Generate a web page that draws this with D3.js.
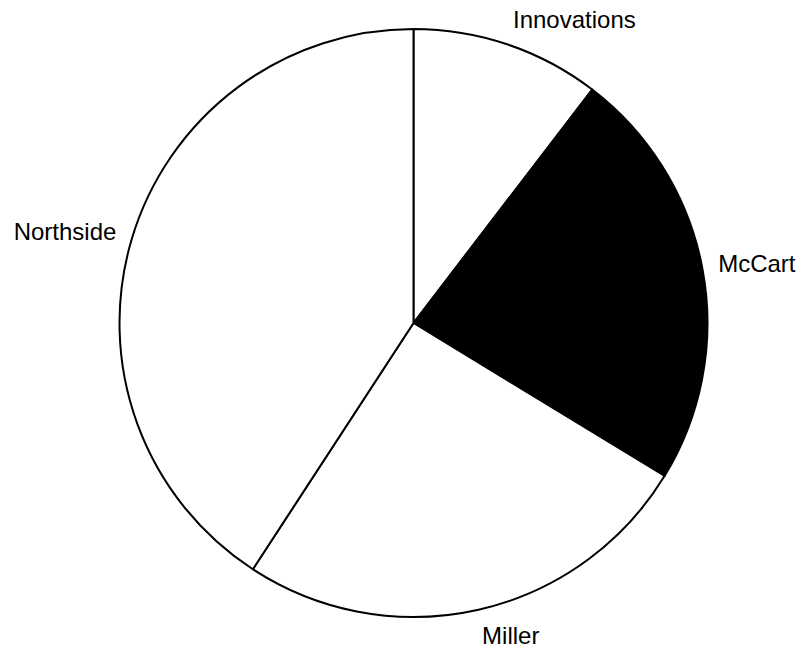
<!DOCTYPE html>
<html>
<head>
<meta charset="utf-8">
<script src="https://cdn.jsdelivr.net/npm/d3@7"></script>
<style>
  html, body { margin: 0; padding: 0; background: #fff; }
  svg { display: block; }
</style>
</head>
<body>
<div id="chart"></div>
<script>
// slice values (percent of total), read clockwise from 12 o'clock
const categories = ['Innovations', 'McCart', 'Miller', 'Northside'];
const values = [10.4, 23.3, 25.5, 40.8];
const fills = ['#ffffff', '#000000', '#ffffff', '#ffffff'];

const data = categories.map((label, i) => ({ label, value: values[i], fill: fills[i] }));

const width = 797;
const height = 649;
const cx = 413.5;
const cy = 323;
const radius = 294;
const labelRadius = 310;
const fontSize = 24;

const svg = d3.select('#chart').append('svg')
    .attr('width', width)
    .attr('height', height);

const pie = d3.pie()
    .sort(null)
    .value(d => d.value);

const arc = d3.arc()
    .innerRadius(0)
    .outerRadius(radius);

const arcs = pie(data);

const g = svg.append('g')
    .attr('transform', `translate(${cx}, ${cy})`);

g.selectAll('path.slice')
    .data(arcs)
  .enter().append('path')
    .attr('class', 'slice')
    .attr('d', arc)
    .attr('fill', d => d.data.fill)
    .attr('stroke', '#000')
    .attr('stroke-width', 2)
    .attr('stroke-linejoin', 'round');

// labels sit just outside the rim at each slice's mid angle
g.selectAll('text.label')
    .data(arcs)
  .enter().append('text')
    .attr('class', 'label')
    .attr('font-family', '"Liberation Sans", Arial, sans-serif')
    .attr('font-size', `${fontSize}px`)
    .attr('fill', '#000')
    .each(function (d) {
      const a = (d.startAngle + d.endAngle) / 2;
      const s = Math.sin(a);
      const c = Math.cos(a);
      const x = labelRadius * s;
      const yMid = -labelRadius * c - c * (fontSize * 0.45);
      d3.select(this)
        .attr('x', x)
        .attr('y', yMid)
        .attr('dy', '0.35em')
        .attr('text-anchor', s >= 0 ? 'start' : 'end')
        .text(d.data.label);
    });
</script>
</body>
</html>
